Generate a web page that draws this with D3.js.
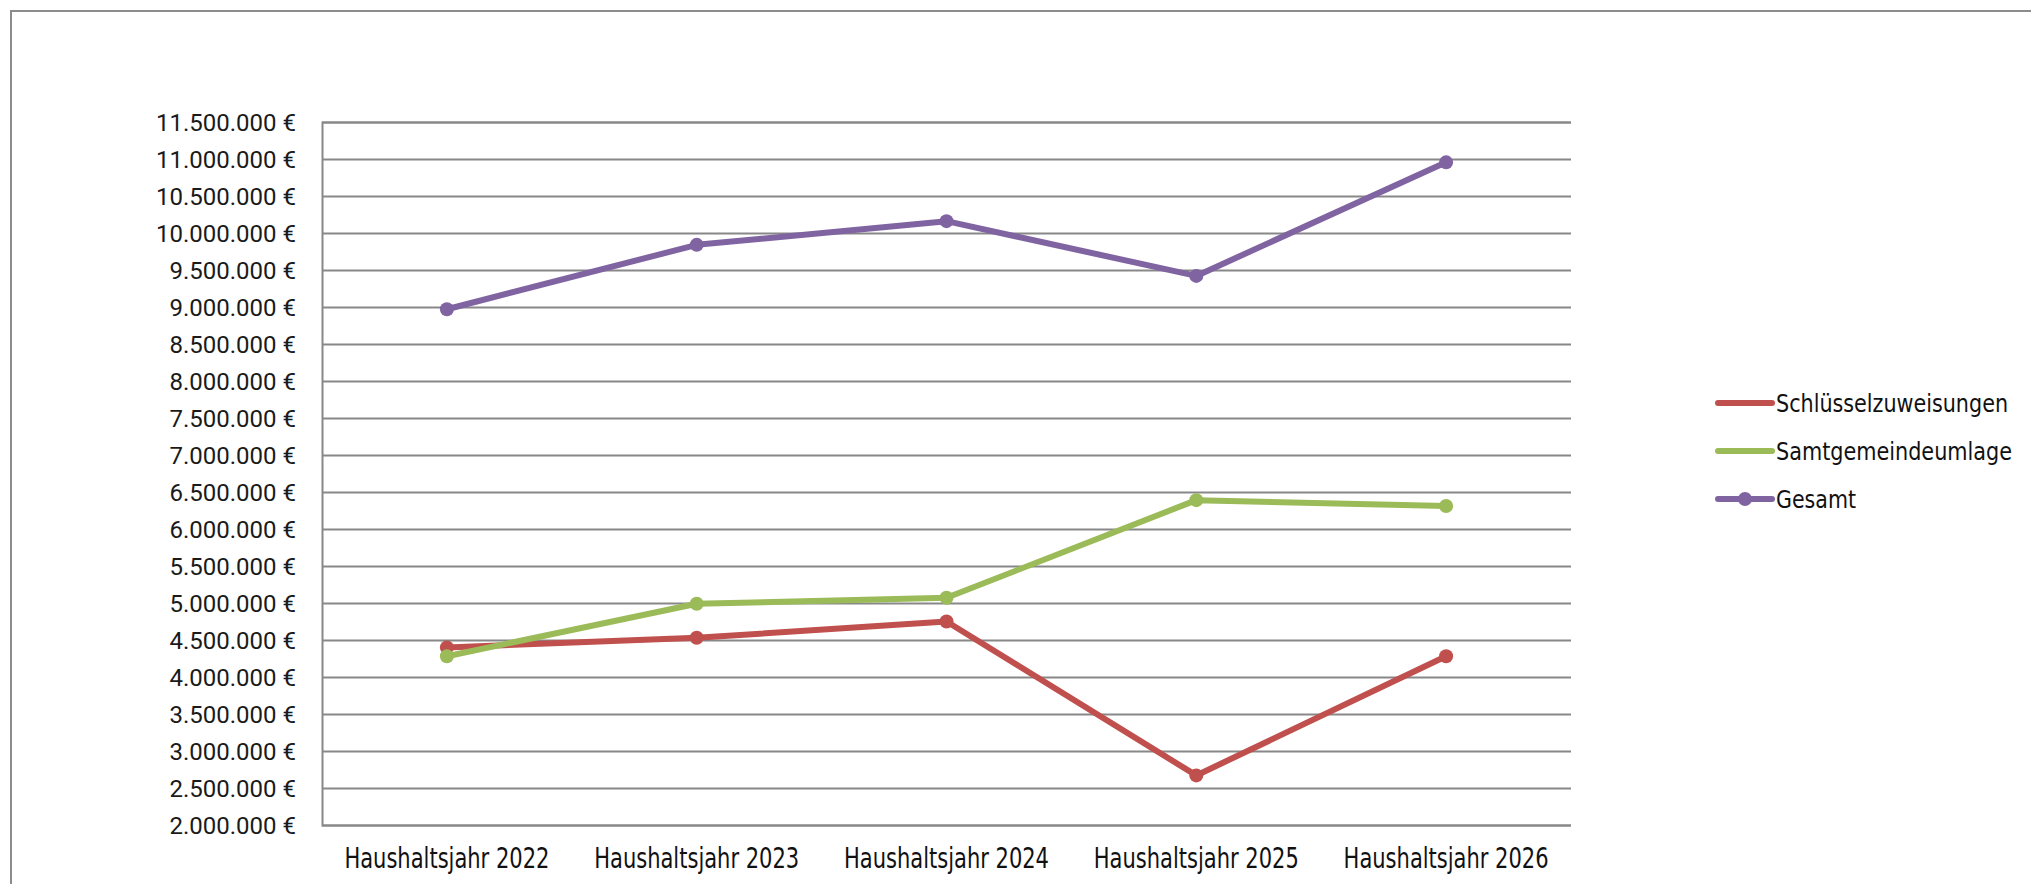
<!DOCTYPE html>
<html>
<head>
<meta charset="utf-8">
<script src="https://cdn.jsdelivr.net/npm/d3@7"></script>
<style>
  html, body { margin: 0; padding: 0; background: #fff; overflow: hidden; }
  svg { display: block; }
  .ytick text { font-family: Roboto, "Noto Sans", sans-serif; font-size: 24px; fill: #1a1a1a; }
  .xtick text, .legend text { font-family: "Liberation Sans Narrow", "DejaVu Sans Condensed", "Liberation Sans", sans-serif; fill: #111; }
</style>
</head>
<body>
<svg width="2031" height="884"></svg>
<script>
// chart data
const categories = ["Haushaltsjahr 2022", "Haushaltsjahr 2023", "Haushaltsjahr 2024", "Haushaltsjahr 2025", "Haushaltsjahr 2026"];
const schluesselzuweisungen = [4400000, 4530000, 4750000, 2670000, 4280000];
const samtgemeindeumlage = [4280000, 4990000, 5070000, 6390000, 6310000];
const gesamt = [8970000, 9840000, 10160000, 9420000, 10955000];
const seriesNames = ["Schlüsselzuweisungen", "Samtgemeindeumlage", "Gesamt"];
const seriesColors = ["#C0504D", "#9BBB59", "#8064A2"];
const yTicks = d3.range(2000000, 11500001, 500000);

const series = [schluesselzuweisungen, samtgemeindeumlage, gesamt].map(function(vals, i) {
  return { name: seriesNames[i], color: seriesColors[i], values: vals };
});

const svg = d3.select("svg");
const plot = { left: 322, right: 1571, top: 122, bottom: 825 };

// outer chart frame (runs off the right and bottom of the window)
svg.append("rect")
  .attr("x", 11).attr("y", 11)
  .attr("width", 2100).attr("height", 950)
  .attr("fill", "none")
  .attr("stroke", "#8c8c8c")
  .attr("stroke-width", 2);

const x = d3.scaleBand().domain(categories).range([plot.left, plot.right]).padding(0);
const y = d3.scaleLinear().domain([2000000, 11500000]).range([plot.bottom, plot.top]);
const cx = function(c) { return x(c) + x.bandwidth() / 2; };

const de = d3.formatLocale({ decimal: ",", thousands: ".", grouping: [3], currency: ["", " €"] });
const fmt = de.format("$,.0f");

// y axis + gridlines
const yAxis = svg.append("g")
  .attr("class", "ytick")
  .attr("transform", "translate(" + plot.left + ",0)")
  .call(d3.axisLeft(y).tickValues(yTicks).tickFormat(fmt)
    .tickSize(-(plot.right - plot.left)).tickPadding(26));
yAxis.select(".domain").attr("stroke", "#888").attr("stroke-width", 2);
yAxis.selectAll(".tick line").attr("stroke", "#888").attr("stroke-width", 2);
yAxis.selectAll(".tick text").attr("dy", "0.36em");

// x axis labels
const xAxis = svg.append("g")
  .attr("class", "xtick")
  .attr("transform", "translate(0," + plot.bottom + ")")
  .call(d3.axisBottom(x).tickSize(0));
xAxis.select(".domain").remove();
xAxis.selectAll(".tick text")
  .attr("y", 43).attr("dy", 0)
  .attr("font-size", 29)
  .attr("textLength", 205)
  .attr("lengthAdjust", "spacingAndGlyphs");

// lines and markers
const line = d3.line()
  .x(function(d, i) { return cx(categories[i]); })
  .y(function(d) { return y(d); });

series.forEach(function(s) {
  const g = svg.append("g").attr("class", "series");
  g.append("path")
    .datum(s.values)
    .attr("d", line)
    .attr("fill", "none")
    .attr("stroke", s.color)
    .attr("stroke-width", 6)
    .attr("stroke-linejoin", "round")
    .attr("stroke-linecap", "round");
  g.selectAll("circle")
    .data(s.values)
    .join("circle")
    .attr("cx", function(d, i) { return cx(categories[i]); })
    .attr("cy", function(d) { return y(d); })
    .attr("r", 7)
    .attr("fill", s.color);
});

// legend (only Gesamt shows its marker, like the original)
const legendWidths = [232, 236, 80];
const legend = svg.append("g").attr("class", "legend");
series.forEach(function(s, i) {
  const ly = 403 + i * 48;
  legend.append("line")
    .attr("x1", 1718).attr("x2", 1772)
    .attr("y1", ly).attr("y2", ly)
    .attr("stroke", s.color)
    .attr("stroke-width", 6)
    .attr("stroke-linecap", "round");
  if (s.name === "Gesamt") {
    legend.append("circle").attr("cx", 1745).attr("cy", ly).attr("r", 7).attr("fill", s.color);
  }
  legend.append("text")
    .attr("x", 1776).attr("y", ly + 9)
    .attr("font-size", 24)
    .attr("textLength", legendWidths[i])
    .attr("lengthAdjust", "spacingAndGlyphs")
    .text(s.name);
});
</script>
</body>
</html>
